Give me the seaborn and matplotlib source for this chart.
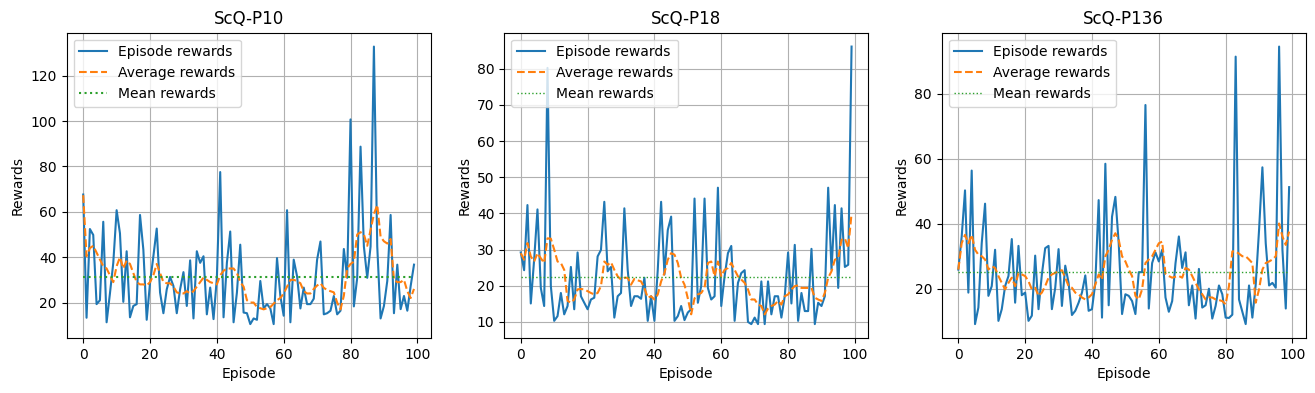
import numpy as np
import pandas as pd
import matplotlib
matplotlib.use("Agg")
import matplotlib.pyplot as plt
import seaborn as sns

titles = ["ScQ-P10", "ScQ-P18", "ScQ-P136"]

p10_rewards = [67.6, 13.3, 52.4, 49.8, 19.3, 21.0, 55.6, 11.3, 24.0, 37.5,
               60.7, 50.5, 20.3, 42.6, 13.5, 18.5, 19.3, 58.6, 43.3, 12.4,
               28.7, 40.4, 52.6, 24.4, 15.3, 25.8, 31.3, 27.3, 15.3, 25.8,
               33.4, 18.5, 38.6, 13.0, 42.6, 37.5, 40.4, 14.8, 26.6, 12.7,
               30.9, 77.5, 13.5, 37.5, 51.3, 11.3, 24.4, 45.5, 15.6, 15.3,
               10.5, 13.0, 12.4, 29.5, 17.4, 19.3, 17.4, 10.5, 39.6, 22.9,
               14.2, 60.7, 11.3, 38.9, 31.6, 17.4, 26.6, 19.3, 19.3, 21.7,
               38.9, 46.9, 14.8, 15.3, 16.4, 22.9, 14.8, 16.4, 43.6, 30.9,
               100.7, 18.3, 30.9, 88.7, 44.7, 30.9, 44.7, 132.8, 44.7, 13.0,
               18.5, 29.5, 58.6, 15.3, 36.7, 17.1, 22.9, 16.4, 27.3, 36.7]
p10_average = [67.3, 40.4, 44.0, 45.0, 42.0, 39.0, 36.0, 35.0, 32.0, 29.0,
               36.0, 40.0, 35.0, 38.5, 37.0, 33.0, 29.0, 28.0, 28.0, 27.5,
               29.0, 32.0, 37.0, 33.0, 29.0, 28.5, 28.5, 27.0, 24.5, 24.0,
               24.0, 25.0, 24.0, 25.0, 27.0, 29.0, 31.0, 30.0, 29.0, 28.5,
               28.0, 32.0, 34.0, 35.0, 35.0, 35.0, 33.0, 29.0, 27.0, 21.0,
               20.0, 20.0, 18.0, 17.5, 17.0, 17.5, 18.0, 19.5, 21.0, 22.0,
               24.0, 27.0, 30.0, 30.0, 29.5, 28.5, 25.0, 24.0, 24.0, 26.0,
               27.5, 28.5, 26.5, 25.5, 25.0, 24.5, 20.0, 17.0, 23.0, 35.0,
               37.0, 38.0, 50.0, 51.0, 50.0, 45.0, 52.0, 59.0, 63.0, 49.0,
               47.0, 46.0, 48.0, 30.0, 29.0, 29.0, 30.0, 25.0, 22.0, 26.0]

p18_rewards = [29.2, 24.3, 42.3, 15.1, 27.2, 41.1, 19.4, 14.4, 80.2, 19.9,
               10.3, 11.6, 18.0, 12.1, 14.4, 25.2, 13.5, 29.2, 17.1, 15.3,
               13.5, 16.2, 16.7, 28.1, 29.9, 43.2, 24.0, 25.2, 11.2, 17.1,
               18.0, 41.4, 24.4, 14.4, 17.1, 17.1, 16.4, 22.2, 10.3, 17.1,
               10.3, 24.4, 43.2, 23.1, 35.4, 39.1, 10.3, 11.6, 14.4, 10.5,
               12.6, 13.5, 44.1, 15.3, 19.9, 44.1, 19.4, 16.2, 17.1, 47.1,
               14.4, 22.6, 29.0, 31.0, 10.3, 20.8, 23.5, 24.3, 10.0, 9.4,
               11.2, 9.4, 21.2, 9.4, 21.2, 12.1, 17.1, 17.1, 11.2, 17.1,
               29.2, 15.1, 31.3, 10.3, 18.0, 13.0, 13.0, 30.2, 9.4, 15.3,
               14.4, 17.1, 47.1, 24.4, 42.3, 19.4, 41.4, 25.2, 25.8, 86.1]
p18_average = [29.0, 27.2, 31.8, 28.1, 26.7, 29.0, 27.6, 26.3, 33.1, 33.0,
               30.0, 26.7, 26.3, 24.4, 15.8, 15.3, 16.2, 19.0, 19.1, 19.0,
               18.5, 18.0, 17.6, 18.0, 19.9, 26.7, 25.8, 26.5, 24.4, 22.6,
               21.7, 22.2, 22.2, 20.3, 21.9, 21.5, 21.2, 19.4, 16.7, 17.1,
               16.2, 17.6, 21.2, 23.5, 27.2, 29.0, 28.6, 26.3, 22.2, 20.3,
               16.5, 12.1, 16.5, 17.6, 18.0, 19.4, 26.3, 26.7, 22.6, 26.7,
               22.6, 24.4, 24.9, 26.3, 24.4, 22.6, 21.7, 20.8, 19.0, 16.2,
               16.2, 14.8, 14.4, 12.1, 13.7, 14.4, 14.8, 15.8, 14.8, 17.1,
               17.6, 19.0, 19.9, 20.1, 19.4, 19.4, 19.4, 19.4, 16.7, 16.2,
               15.8, 18.0, 22.2, 24.0, 27.2, 27.6, 32.7, 33.1, 30.4, 40.0]

p136_rewards = [25.9, 36.0, 50.3, 18.8, 56.4, 9.1, 14.2, 34.0, 46.2, 17.8,
                20.8, 32.0, 10.1, 13.7, 20.8, 23.9, 35.3, 15.7, 33.2, 18.0,
                18.8, 10.1, 11.7, 30.2, 13.7, 24.4, 32.5, 33.2, 13.7, 20.3,
                32.2, 14.7, 27.1, 21.8, 11.9, 13.2, 15.7, 18.8, 24.1, 13.2,
                13.7, 21.8, 47.3, 11.1, 58.5, 14.9, 42.2, 48.3, 34.0, 12.2,
                18.3, 17.8, 16.2, 12.2, 25.1, 25.1, 76.6, 13.9, 27.9, 31.2,
                28.4, 32.0, 17.3, 12.9, 16.2, 27.9, 36.1, 26.4, 31.2, 14.9,
                21.0, 10.8, 26.1, 14.2, 14.9, 20.0, 10.8, 14.7, 21.0, 18.3,
                11.1, 11.0, 12.0, 91.5, 16.7, 12.9, 9.1, 21.0, 11.1, 21.3,
                38.1, 57.4, 34.0, 21.0, 21.8, 20.3, 94.6, 32.0, 13.9, 51.3]
p136_average = [25.9, 34.0, 36.6, 34.0, 36.6, 32.0, 30.5, 30.0, 29.0, 25.9,
                26.9, 26.4, 23.9, 21.8, 19.8, 21.8, 23.4, 20.8, 24.9, 24.4,
                23.9, 22.3, 19.8, 20.3, 17.8, 18.8, 20.8, 23.4, 24.4, 24.9,
                25.4, 25.7, 23.4, 20.8, 20.3, 18.8, 18.3, 17.3, 16.7, 17.3,
                18.3, 21.3, 24.4, 22.8, 30.0, 32.0, 35.1, 37.1, 35.1, 30.0,
                28.4, 25.9, 23.9, 17.8, 16.7, 19.8, 27.9, 29.0, 30.0, 32.0,
                34.0, 34.5, 24.6, 23.9, 23.4, 23.7, 23.9, 23.4, 26.4, 25.9,
                23.9, 21.8, 19.8, 18.3, 16.7, 17.3, 17.3, 16.7, 16.5, 16.2,
                15.2, 20.8, 31.5, 31.5, 30.8, 30.0, 30.0, 29.0, 27.9, 15.7,
                19.8, 25.9, 27.9, 28.4, 29.0, 30.0, 40.1, 36.1, 33.5, 37.6]

rewards = [p10_rewards, p18_rewards, p136_rewards]
averages = [p10_average, p18_average, p136_average]
mean_lw = [1.5, 1.0, 1.0]

fig, axes = plt.subplots(1, 3, figsize=(13.15, 3.93), dpi=100)
fig.subplots_adjust(left=0.0507, right=0.9929, top=0.9168, bottom=0.140, wspace=0.2025)

for ax, title, r, a, lw in zip(axes, titles, rewards, averages, mean_lw):
    ep = np.arange(len(r))
    df = pd.DataFrame({"Episode": ep, "Rewards": r, "Average": a})
    mean_val = float(np.mean(r))
    sns.lineplot(data=df, x="Episode", y="Rewards", ax=ax, color="#1f77b4",
                 linewidth=1.5, label="Episode rewards")
    sns.lineplot(data=df, x="Episode", y="Average", ax=ax, color="#ff7f0e",
                 linewidth=1.5, linestyle="--", label="Average rewards")
    sns.lineplot(x=ep, y=np.full(len(r), mean_val), ax=ax, color="#2ca02c",
                 linewidth=lw, linestyle=":", label="Mean rewards")
    ax.set_title(title, fontsize=12)
    ax.set_xlabel("Episode")
    ax.set_ylabel("Rewards")
    ax.grid(True)
    ax.set_axisbelow(True)
    ax.legend(loc="upper left")

fig.savefig("out.png", dpi=100)
